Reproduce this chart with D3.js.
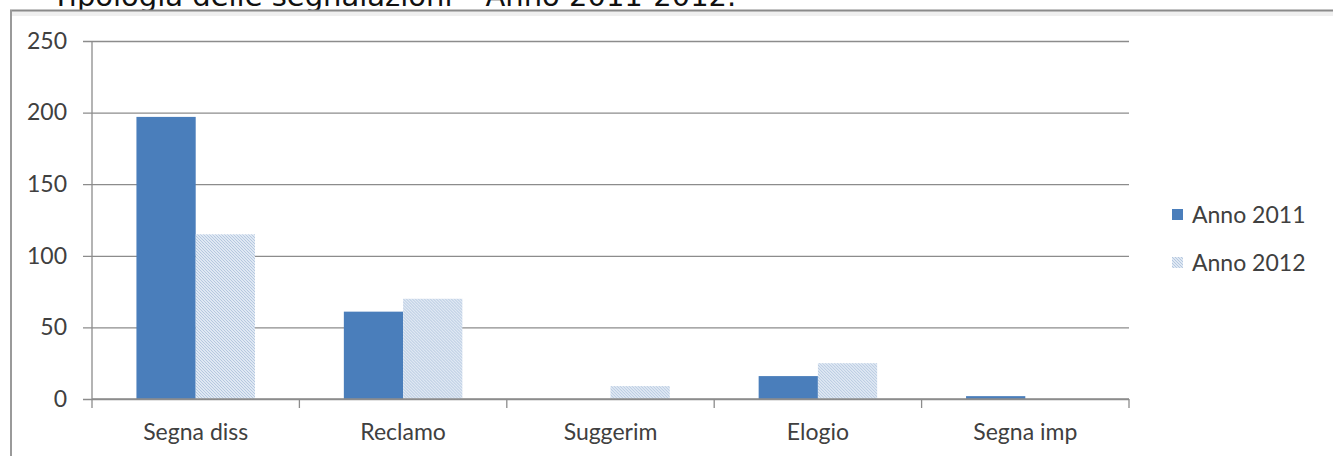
<!DOCTYPE html>
<html>
<head>
<meta charset="utf-8">
<script src="https://cdn.jsdelivr.net/npm/d3@7"></script>
<style>
  html, body { margin: 0; padding: 0; background: #fff; }
  svg { display: block; }
</style>
</head>
<body>
<script>
// Categorie e valori per anno
const categories = ["Segna diss", "Reclamo", "Suggerim", "Elogio", "Segna imp"];
const series = ["Anno 2011", "Anno 2012"];
const values2011 = [197, 61, 0, 16, 2];
const values2012 = [115, 70, 9, 25, 0];
const yTicks = [0, 50, 100, 150, 200, 250];
const title = "Tipologia delle segnalazioni – Anno 2011-2012.";

const W = 1333, H = 456;
const svg = d3.select("body").append("svg").attr("width", W).attr("height", H);

// Riempimento a trama diagonale per la serie 2012
const defs = svg.append("defs");
const pat = defs.append("pattern")
  .attr("id", "hatch2012").attr("patternUnits", "userSpaceOnUse")
  .attr("width", 3).attr("height", 3);
pat.append("rect").attr("width", 3).attr("height", 3).attr("fill", "#dfe8f3");
pat.append("path").attr("d", "M-1,-1 l2,2 M0,0 l3,3 M2,2 l2,2")
  .attr("stroke", "#b3c6df").attr("stroke-width", 0.9);

// Titolo (parzialmente tagliato dal bordo superiore)
svg.append("text").attr("x", 52).attr("y", 6)
  .attr("font-family", "DejaVu Sans").attr("font-size", 29)
  .attr("fill", "#111").text(title);

// Cornice dell'area del grafico
svg.append("rect").attr("x", 10).attr("y", 11).attr("width", W).attr("height", 5)
  .attr("fill", "#efefef");
svg.append("line").attr("x1", 10).attr("x2", W).attr("y1", 10.5).attr("y2", 10.5)
  .attr("stroke", "#8a8a8a").attr("stroke-width", 2);
svg.append("line").attr("x1", 11).attr("x2", 11).attr("y1", 10).attr("y2", H)
  .attr("stroke", "#9a9a9a").attr("stroke-width", 2);

const plot = { left: 92, right: 1129, top: 41, bottom: 399 };
const y = d3.scaleLinear().domain([0, 250]).range([plot.bottom, plot.top]);
const x0 = d3.scaleBand().domain(categories).range([plot.left, plot.right]).padding(0);
const gap = x0.bandwidth() * 1.5 / 3.5;
const x1 = d3.scaleBand().domain(series)
  .range([gap / 2, x0.bandwidth() - gap / 2]).padding(0);

const fontFam = "Lato, 'Open Sans', sans-serif";
const textCol = "#404040";
const axisCol = "#8c8c8c";

// Griglia e asse Y
const yAxis = d3.axisLeft(y).tickValues(yTicks)
  .tickSize(-(plot.right - plot.left)).tickSizeOuter(0);
const gy = svg.append("g").attr("transform", `translate(${plot.left},0)`).call(yAxis);
gy.select(".domain").remove();
gy.selectAll(".tick line").attr("stroke", axisCol).attr("stroke-width", 1.3)
  .attr("x1", -9);
gy.selectAll(".tick text").attr("font-family", fontFam).attr("font-size", 23)
  .attr("fill", textCol).attr("x", -25);
svg.append("line").attr("x1", plot.left).attr("x2", plot.left)
  .attr("y1", plot.top).attr("y2", plot.bottom)
  .attr("stroke", axisCol).attr("stroke-width", 1.3);

// Barre
const rows = categories.map((c, i) => ({ cat: c, vals: [values2011[i], values2012[i]] }));
const groups = svg.append("g").selectAll("g").data(rows).join("g")
  .attr("transform", d => `translate(${x0(d.cat)},0)`);
groups.selectAll("rect").data(d => d.vals.map((v, j) => ({ s: series[j], v })))
  .join("rect")
  .attr("x", d => x1(d.s))
  .attr("width", x1.bandwidth())
  .attr("y", d => y(d.v))
  .attr("height", d => y(0) - y(d.v))
  .attr("fill", d => d.s === series[0] ? "#4a7ebb" : "url(#hatch2012)");

// Asse X
const xAxis = d3.axisBottom(x0).tickSize(0).tickPadding(25);
const gx = svg.append("g").attr("transform", `translate(0,${plot.bottom})`).call(xAxis);
gx.select(".domain").remove();
gx.selectAll(".tick text").attr("font-family", fontFam).attr("font-size", 23)
  .attr("fill", textCol);
svg.append("line").attr("x1", plot.left).attr("x2", plot.right)
  .attr("y1", plot.bottom).attr("y2", plot.bottom)
  .attr("stroke", axisCol).attr("stroke-width", 1.3);
const bounds = categories.map(c => x0(c)).concat([plot.right]);
svg.append("g").selectAll("line").data(bounds).join("line")
  .attr("x1", d => d).attr("x2", d => d)
  .attr("y1", plot.bottom).attr("y2", plot.bottom + 9)
  .attr("stroke", axisCol).attr("stroke-width", 1.3);

// Legenda
const legend = svg.append("g").attr("transform", "translate(1172,215)");
const li = legend.selectAll("g").data(series).join("g")
  .attr("transform", (d, i) => `translate(0,${i * 48})`);
li.append("rect").attr("x", 0).attr("y", -6).attr("width", 11).attr("height", 11)
  .attr("fill", (d, i) => i === 0 ? "#4a7ebb" : "url(#hatch2012)");
li.append("text").attr("x", 20).attr("y", 0).attr("dy", "0.35em")
  .attr("font-family", fontFam).attr("font-size", 23).attr("fill", textCol)
  .text(d => d);
</script>
</body>
</html>
